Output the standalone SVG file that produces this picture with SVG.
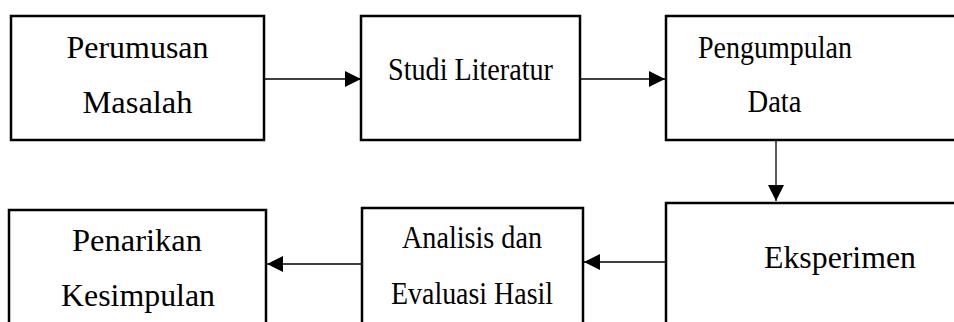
<svg xmlns="http://www.w3.org/2000/svg" width="954" height="322" viewBox="0 0 954 322">
<style>
.box{fill:#fff;stroke:#000;stroke-width:2.5}
.t{font-family:'Liberation Serif','Times New Roman',serif;font-size:32px;fill:#000;text-anchor:middle}
.c{stroke:#000;stroke-width:1.3;fill:none}
</style>
<defs>
<marker id="ah" markerUnits="userSpaceOnUse" markerWidth="16" markerHeight="16" refX="16" refY="8" orient="auto">
<path d="M0,0 L16,8 L0,16 Z" fill="#000"/>
</marker>
</defs>
<rect width="954" height="322" fill="#fff"/>
<g id="n1"><rect class="box" x="11" y="16" width="253" height="124"/><text class="t" x="137.5" y="58" textLength="142" lengthAdjust="spacingAndGlyphs">Perumusan</text><text class="t" x="137.5" y="113" textLength="110" lengthAdjust="spacingAndGlyphs">Masalah</text></g>
<g id="n2"><rect class="box" x="361" y="16" width="219" height="124"/><text class="t" x="470.5" y="80" textLength="165" lengthAdjust="spacingAndGlyphs">Studi Literatur</text></g>
<g id="n3"><rect class="box" x="666" y="16" width="300" height="124"/><text class="t" x="775" y="58" textLength="154" lengthAdjust="spacingAndGlyphs">Pengumpulan</text><text class="t" x="774.5" y="112" textLength="54" lengthAdjust="spacingAndGlyphs">Data</text></g>
<g id="n4"><rect class="box" x="666" y="203" width="300" height="130"/><text class="t" x="840" y="268" textLength="152" lengthAdjust="spacingAndGlyphs">Eksperimen</text></g>
<g id="n5"><rect class="box" x="362" y="208" width="221" height="125"/><text class="t" x="472" y="248" textLength="140" lengthAdjust="spacingAndGlyphs">Analisis dan</text><text class="t" x="472" y="304" textLength="162" lengthAdjust="spacingAndGlyphs">Evaluasi Hasil</text></g>
<g id="n6"><rect class="box" x="9" y="210" width="257" height="123"/><text class="t" x="137" y="251" textLength="130" lengthAdjust="spacingAndGlyphs">Penarikan</text><text class="t" x="138" y="306" textLength="154" lengthAdjust="spacingAndGlyphs">Kesimpulan</text></g>
<g id="connectors">
<line class="c" x1="264" y1="79" x2="361" y2="79" marker-end="url(#ah)"/>
<line class="c" x1="580" y1="79" x2="665" y2="79" marker-end="url(#ah)"/>
<line class="c" x1="776" y1="140" x2="776" y2="201" marker-end="url(#ah)"/>
<line class="c" x1="666" y1="262" x2="584" y2="262" marker-end="url(#ah)"/>
<line class="c" x1="362" y1="264" x2="267" y2="264" marker-end="url(#ah)"/>
</g>
</svg>
